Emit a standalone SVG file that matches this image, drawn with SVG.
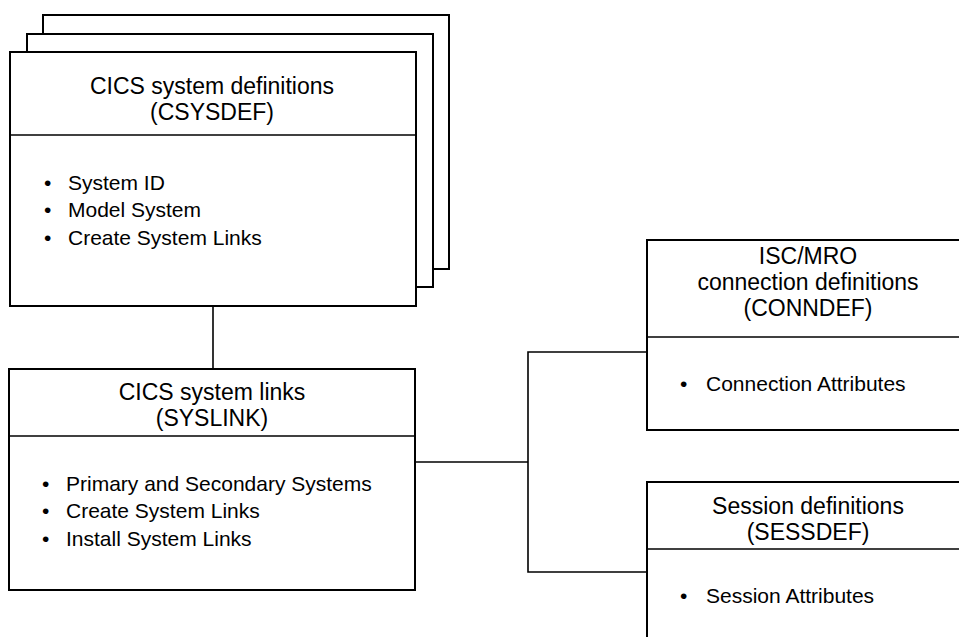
<svg xmlns="http://www.w3.org/2000/svg" width="959" height="637" viewBox="0 0 959 637">
<style>
.box{fill:#fff;stroke:#000;stroke-width:2}
.div{stroke:#000;stroke-width:1.6;fill:none}
.con{stroke:#000;stroke-width:1.6;fill:none}
.t{font-family:"Liberation Sans",Arial,sans-serif;font-size:23px;fill:#000;text-anchor:middle}
.b{font-family:"Liberation Sans",Arial,sans-serif;font-size:21px;fill:#000}
</style>
<rect width="959" height="637" fill="#fff"/>
<g id="connectors">
<line class="con" x1="213" y1="306" x2="213" y2="369"/>
<polyline class="con" points="415,462 528,462"/>
<polyline class="con" points="647,352 528,352 528,572 647,572"/>
</g>
<g id="csysdef">
<rect class="box" x="43" y="15" width="406" height="254"/>
<rect class="box" x="27" y="34" width="406" height="253"/>
<rect class="box" x="10" y="52" width="406" height="254"/>
<line class="div" x1="10" y1="135" x2="416" y2="135"/>
<text class="t" x="212" y="94">CICS system definitions</text>
<text class="t" x="212" y="120">(CSYSDEF)</text>
<text class="b" x="44" y="190">•</text><text class="b" x="68" y="190">System ID</text>
<text class="b" x="44" y="217">•</text><text class="b" x="68" y="217">Model System</text>
<text class="b" x="44" y="245">•</text><text class="b" x="68" y="245">Create System Links</text>
</g>
<g id="syslink">
<rect class="box" x="9" y="369" width="406" height="221"/>
<line class="div" x1="9" y1="436" x2="415" y2="436"/>
<text class="t" x="212" y="400">CICS system links</text>
<text class="t" x="212" y="426">(SYSLINK)</text>
<text class="b" x="42" y="491">•</text><text class="b" x="66" y="491">Primary and Secondary Systems</text>
<text class="b" x="42" y="518">•</text><text class="b" x="66" y="518">Create System Links</text>
<text class="b" x="42" y="546">•</text><text class="b" x="66" y="546">Install System Links</text>
</g>
<g id="conndef">
<rect class="box" x="647" y="240" width="330" height="190"/>
<line class="div" x1="647" y1="337" x2="977" y2="337"/>
<text class="t" x="808" y="264">ISC/MRO</text>
<text class="t" x="808" y="290">connection definitions</text>
<text class="t" x="808" y="316">(CONNDEF)</text>
<text class="b" x="680" y="391">•</text><text class="b" x="706" y="391">Connection Attributes</text>
</g>
<g id="sessdef">
<rect class="box" x="647" y="482" width="330" height="180"/>
<line class="div" x1="647" y1="549" x2="977" y2="549"/>
<text class="t" x="808" y="514">Session definitions</text>
<text class="t" x="808" y="540">(SESSDEF)</text>
<text class="b" x="680" y="603">•</text><text class="b" x="706" y="603">Session Attributes</text>
</g>
</svg>
